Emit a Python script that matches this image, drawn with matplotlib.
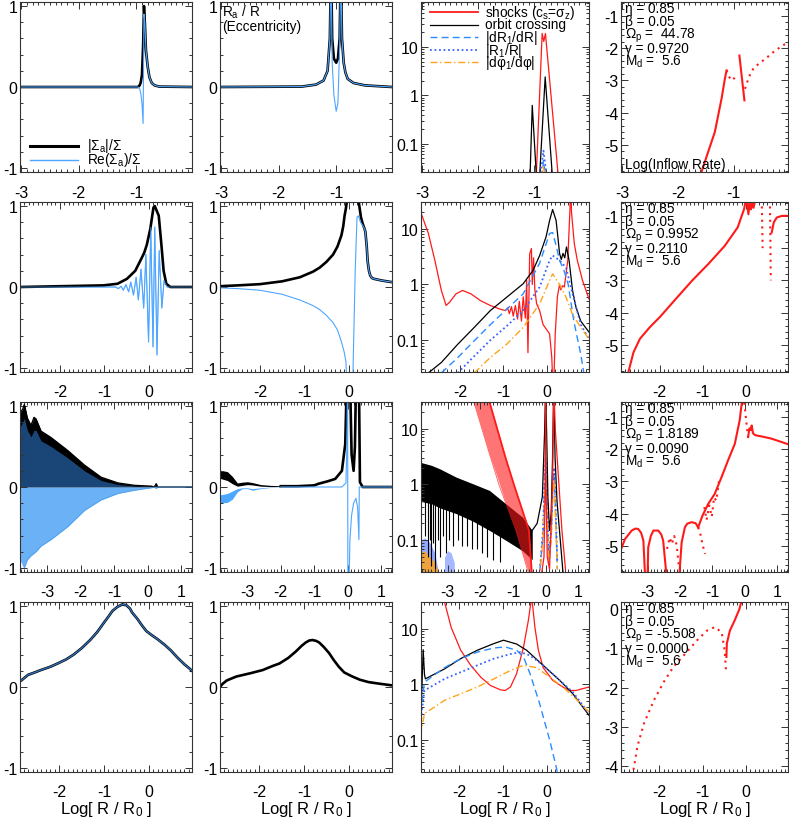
import numpy as np
import matplotlib
matplotlib.use('Agg')
import matplotlib.pyplot as plt
from matplotlib.ticker import MultipleLocator, FixedLocator, FixedFormatter, LogLocator, NullFormatter

plt.rcParams['font.family'] = ['Liberation Sans', 'DejaVu Sans']
plt.rcParams['mathtext.fontset'] = 'custom'
plt.rcParams['mathtext.rm'] = 'Liberation Sans'
plt.rcParams['mathtext.it'] = 'Liberation Sans'
plt.rcParams['mathtext.default'] = 'regular'
plt.rcParams['axes.unicode_minus'] = False

# ---------------- data ----------------
# Row 1
p11_x = [-3.0, -0.97, -0.94, -0.92, -0.90, -0.88, -0.865, -0.85, -0.83, -0.80, -0.77, -0.73, -0.68, -0.6, -0.03]
p11_abs = [0, 0, 0.02, 0.06, 0.15, 0.5, 1.0, 0.8, 0.45, 0.25, 0.12, 0.05, 0.02, 0.005, 0]
p11_re = [0, 0, -0.02, -0.08, -0.2, -0.45, 0.9, 0.8, 0.45, 0.25, 0.12, 0.05, 0.02, 0.005, 0]

p12_x = [-3.0, -1.6, -1.35, -1.22, -1.15, -1.11, -1.09, -1.07, -1.04, -1.0, -0.97, -0.94, -0.92, -0.90, -0.87, -0.84, -0.8, -0.7, -0.5, -0.03]
p12_abs = [0, 0.005, 0.03, 0.08, 0.2, 0.6, 1.5, 0.6, 0.35, 0.3, 0.35, 0.6, 1.5, 0.6, 0.3, 0.18, 0.1, 0.05, 0.02, 0.0]
p12_re = [0, 0.005, 0.03, 0.08, 0.2, 0.6, 1.5, 0.3, -0.1, -0.3, -0.2, 0.5, 1.5, 0.6, 0.3, 0.18, 0.1, 0.05, 0.02, 0.0]

p13_shock_x = [-0.97, -0.864, -0.835, -0.805, -0.575]
p13_shock = [0.02, 19, 13, 19, 0.02]
p13_orb_x = [-1.08, -1.04, -0.965, -0.91, -0.81, -0.68]
p13_orb = [0.02, 0.62, 0.02, 0.02, 2.4, 0.02]
p13_dr_x = [-0.87, -0.84, -0.8]
p13_dr = [0.02, 0.045, 0.02]
p13_r1_x = [-0.9, -0.84, -0.78]
p13_r1 = [0.02, 0.072, 0.02]
p13_dp_x = [-0.88, -0.85, -0.8]
p13_dp = [0.02, 0.035, 0.02]

p14_s1_x = [-1.6, -1.58, -1.34, -1.22, -1.16, -1.13]
p14_s1 = [-6.0, -5.84, -4.6, -3.57, -2.95, -2.69]
p14_d1_x = [-1.13, -1.08, -1.04, -0.99, -0.95]
p14_d1 = [-2.69, -2.90, -3.0, -2.93, -2.85]
p14_s2_x = [-0.90, -0.86, -0.81]
p14_s2 = [-2.23, -2.85, -3.62]
p14_d2_x = [-0.80, -0.74, -0.69, -0.63, -0.51, -0.40, -0.29, -0.17, -0.08, -0.03]
p14_d2 = [-3.26, -2.95, -2.74, -2.59, -2.43, -2.28, -2.12, -1.97, -1.87, -1.82]

# Row 2
p21_x = [-2.9, -1.02, -0.7, -0.49, -0.3, -0.19, -0.1, -0.04, 0.04, 0.11, 0.14, 0.23, 0.29, 0.34, 0.40, 0.49, 0.98]
p21_abs = [0, 0.02, 0.04, 0.1, 0.2, 0.32, 0.42, 0.52, 0.72, 0.98, 1.0, 0.88, 0.52, 0.2, 0.04, 0.0, 0.0]
p21_re_x = [-2.9, -0.75, -0.68, -0.62, -0.57, -0.51, -0.45, -0.40, -0.34, -0.28, -0.23, -0.17, -0.11, -0.06, 0.0, 0.05, 0.10, 0.14, 0.19, 0.24, 0.30, 0.35, 0.42, 0.98]
p21_re = [0, 0, -0.02, 0.01, -0.04, 0.03, -0.06, 0.06, -0.10, 0.12, -0.16, 0.22, -0.26, 0.40, -0.68, 0.74, -0.74, 0.74, -0.84, 0.45, -0.26, 0.08, 0.0, 0]

p22_x = [-2.9, -2.5, -2.0, -1.5, -1.1, -0.8, -0.65, -0.5, -0.35, -0.25, -0.16, -0.12, -0.09, -0.06, -0.04,
         0.1, 0.23, 0.28, 0.32, 0.36, 0.38, 0.41, 0.43, 0.46, 0.49, 0.53, 0.58, 0.75, 0.98]
p22_abs = [0.01, 0.02, 0.035, 0.07, 0.12, 0.19, 0.24, 0.31, 0.40, 0.50, 0.64, 0.75, 0.88, 0.97, 1.05,
           3.0, 1.05, 0.86, 0.78, 0.72, 0.68, 0.5, 0.32, 0.2, 0.14, 0.11, 0.10, 0.08, 0.06]
p22_re_x = [-2.9, -2.5, -2.0, -1.5, -1.1, -0.8, -0.65, -0.5, -0.35, -0.25, -0.16, -0.1, -0.06, -0.03, 0.09,
            0.11, 0.15, 0.19, 0.22, 0.27, 0.32, 0.36, 0.38, 0.41, 0.43, 0.46, 0.49, 0.53, 0.58, 0.75, 0.98]
p22_re = [-0.01, -0.02, -0.04, -0.09, -0.16, -0.23, -0.28, -0.35, -0.44, -0.53, -0.68, -0.8, -0.92, -1.3, -1.3,
          -0.8, 0.2, 0.86, 0.88, 0.8, 0.76, 0.72, 0.68, 0.5, 0.32, 0.2, 0.14, 0.11, 0.10, 0.08, 0.06]

p23_shock_x = [-2.9, -2.87, -2.73, -2.58, -2.43, -2.32, -2.24, -2.09, -1.94, -1.75, -1.52, -1.30, -1.07,
               -0.95, -0.90, -0.86, -0.81, -0.77, -0.72, -0.67, -0.63, -0.58, -0.54, -0.49, -0.46, -0.43,
               -0.39, -0.35, -0.33, -0.30, -0.27, -0.23, -0.16, -0.08, -0.01, 0.07, 0.12, 0.14, 0.17,
               0.20, 0.25, 0.30, 0.33, 0.37, 0.41, 0.49, 0.54, 0.56, 0.575, 0.64, 0.71, 0.83, 0.98]
p23_shock = [19, 16.5, 8.2, 2.7, 0.78, 0.42, 0.48, 0.68, 0.78, 0.68, 0.51, 0.42, 0.36,
             0.34, 0.38, 0.30, 0.40, 0.27, 0.42, 0.24, 0.50, 0.22, 0.60, 0.25, 1.2, 0.06,
             3.5, 4.4, 1.0, 3.0, 0.8, 0.45, 0.34, 0.19, 0.16, 0.13, 0.05, 0.02, 0.02,
             0.13, 0.6, 1.0, 0.8, 0.95, 0.9, 2.7, 22, 80, 20, 5.4, 2.7, 1.18, 0.55]
p23_orb_x = [-2.8, -2.73, -2.43, -2.05, -1.67, -1.30, -0.92, -0.54, -0.31, -0.16, -0.01, 0.07, 0.14, 0.22, 0.26,
             0.30, 0.34, 0.38, 0.42, 0.46, 0.52, 0.60, 0.68, 0.79, 0.98]
p23_orb = [0.022, 0.026, 0.04, 0.085, 0.17, 0.34, 0.59, 1.03, 1.8, 3.3, 7.2, 14, 22, 14, 7.2,
           3.6, 2.8, 3.6, 3.0, 4.7, 2.7, 0.78, 0.39, 0.22, 0.14]
p23_dr_x = [-2.43, -2.05, -1.67, -1.30, -0.92, -0.54, -0.16, 0.07, 0.14, 0.22, 0.30, 0.40, 0.50, 0.63, 0.79, 0.86]
p23_dr = [0.026, 0.049, 0.098, 0.19, 0.36, 0.68, 2.4, 8.2, 8.5, 5.0, 2.7, 1.8, 1.0, 0.22, 0.056, 0.026]
p23_r1_x = [-2.05, -1.67, -1.30, -0.92, -0.54, -0.16, 0.07, 0.14, 0.30, 0.45, 0.60, 0.79, 0.98]
p23_r1 = [0.026, 0.052, 0.10, 0.18, 0.34, 0.9, 2.7, 3.3, 2.7, 2.0, 0.68, 0.19, 0.105]
p23_dp_x = [-1.67, -1.30, -0.92, -0.54, -0.16, 0.07, 0.14, 0.30, 0.45, 0.60, 0.79, 0.98]
p23_dp = [0.026, 0.049, 0.085, 0.17, 0.45, 1.18, 1.55, 1.0, 0.59, 0.29, 0.17, 0.105]

p24_s1_x = [-2.75, -2.73, -2.61, -2.46, -2.23, -2.0, -1.63, -1.25, -0.87, -0.49, -0.19, -0.04, 0.0]
p24_s1 = [-6.0, -5.85, -5.23, -4.81, -4.45, -4.14, -3.58, -3.01, -2.49, -1.93, -1.36, -0.79, -0.5]
p24_s2_x = [0.02, 0.06, 0.09, 0.12, 0.15, 0.18, 0.22]
p24_s2 = [-0.5, -0.95, -0.6, -0.8, -0.6, -0.75, -0.5]
p24_d1_x = [0.37, 0.38, 0.39]
p24_d1 = [-0.5, -1.2, -2.0]
p24_d2_x = [0.56, 0.57, 0.58]
p24_d2 = [-0.5, -1.6, -3.0]
p24_s3_x = [0.60, 0.62, 0.65, 0.72, 0.84, 0.99]
p24_s3 = [-1.52, -1.4, -1.2, -1.05, -1.0, -1.0]

# Row 3
p31_x = [-3.85, -3.74, -3.69, -3.6, -3.49, -3.4, -3.34, -3.19, -2.89, -2.39, -1.89, -1.39, -0.89, -0.39, 0.11, 0.2, 0.26, 0.3, 1.35]
p31_up = [0.9, 0.96, 1.02, 0.85, 0.76, 0.86, 0.84, 0.69, 0.61, 0.45, 0.27, 0.12, 0.05, 0.02, 0.01, 0.0, 0.04, 0.0, 0.0]
p31_blk = [0.72, 0.8, 0.85, 0.7, 0.62, 0.7, 0.7, 0.57, 0.5, 0.36, 0.2, 0.08, 0.03, 0.012, 0.005, 0.0, 0.02, 0.0, 0.0]
p31_lo = [-0.85, -0.95, -1.0, -0.9, -0.85, -0.82, -0.8, -0.73, -0.65, -0.49, -0.29, -0.16, -0.08, -0.04, -0.01, 0.0, -0.02, 0.0, 0.0]

p32_band_x = [-3.85, -3.6, -3.45, -3.3, -3.15, -3.0, -2.85, -2.6, -2.3, -2.0]
p32_band_up = [0.21, 0.19, 0.13, 0.05, 0.06, 0.065, 0.055, 0.03, 0.02, 0.015]
p32_band_lo = [0.11, 0.08, 0.04, 0.01, 0.02, 0.03, 0.025, 0.01, 0.005, 0.005]
p32_x = [-2.0, -1.5, -1.0, -0.87, -0.6, -0.37, -0.17, -0.07, -0.03, 0.03, 0.08, 0.12, 0.18, 0.22, 0.26, 0.30, 0.34, 0.37, 0.45, 1.35]
p32_abs = [0.01, 0.01, 0.02, 0.04, 0.07, 0.1, 0.2, 0.53, 1.2, 3.0, 1.2, 0.4, 0.2, 0.5, 1.5, 3.0, 1.3, 0.06, 0.0, 0.0]
p32_bband_up = [-0.1, -0.08, -0.05, -0.02, -0.01, -0.01, -0.02, -0.01, 0.0, 0.0]
p32_bband_lo = [-0.2, -0.19, -0.15, -0.06, -0.02, -0.02, -0.04, -0.02, -0.005, 0.0]
p32_re_x = [-2.0, -0.5, -0.17, -0.05, -0.02, 0.0, 0.01, 0.03, 0.07, 0.12, 0.18, 0.25, 0.30, 0.34, 0.35, 0.45, 1.35]
p32_re = [0.0, 0.0, 0.0, 0.05, 0.5, 1.5, -1.5, -1.5, -0.65, -0.35, -0.2, -0.14, -0.25, -0.65, 0.0, 0.0, 0.0]

p33_sh_up_x = [-2.2, -1.72, -1.22, -0.96, -0.51, -0.41]
p33_sh_up = [80, 30, 2.9, 0.95, 0.15, 0.02]
p33_sh_lo_x = [-2.2, -1.72, -1.42, -0.91, -0.56, -0.45]
p33_sh_lo = [30, 3.5, 0.95, 0.15, 0.03, 0.02]
p33_sh_x = [-0.41, -0.3, -0.15, -0.05, -0.01, 0.0, 0.01, 0.05, 0.12, 0.18, 0.22, 0.24, 0.25, 0.30, 0.40, 0.50, 0.61]
p33_sh = [0.02, 0.02, 0.02, 0.05, 1.0, 60, 1.0, 0.05, 0.03, 0.3, 2.0, 20, 60, 9, 1.18, 0.15, 0.03]
p33_env_x = [-3.85, -3.5, -3.24, -2.74, -2.23, -1.72, -1.22, -0.71, -0.41]
p33_env_up = [2.5, 2.2, 1.9, 1.35, 1.03, 0.78, 0.45, 0.26, 0.15]
p33_env_lo = [0.5, 0.45, 0.38, 0.3, 0.22, 0.15, 0.1, 0.065, 0.045]
p33_spk_x = [-3.7, -3.62, -3.55, -3.5, -3.44, -3.38, -3.3, -3.25, -3.15, -3.05, -2.95, -2.85, -2.7, -2.55, -2.4, -2.25, -2.1, -1.95, -1.8, -1.6, -1.4]
p33_spk_lo = [0.12, 0.05, 0.1, 0.035, 0.09, 0.03, 0.1, 0.05, 0.12, 0.06, 0.1, 0.08, 0.1, 0.08, 0.08, 0.07, 0.07, 0.06, 0.05, 0.045, 0.04]
p33_orb_x = [-0.41, -0.26, -0.10, -0.03, 0.0, 0.03, 0.07, 0.12, 0.17, 0.21, 0.25, 0.29, 0.35, 0.45, 0.55]
p33_orb = [0.15, 0.2, 0.6, 9, 60, 9, 0.6, 0.15, 0.3, 2.5, 60, 3.0, 0.5, 0.1, 0.02]
p33_sm_x = [-0.2, -0.08, -0.03, 0.0, 0.04, 0.1, 0.17, 0.22, 0.26, 0.3, 0.36]
p33_dr = [0.02, 0.12, 1.0, 2.5, 0.4, 0.04, 0.12, 0.8, 1.6, 0.4, 0.03]
p33_r1 = [0.02, 0.15, 1.2, 3.0, 0.5, 0.05, 0.15, 1.0, 2.0, 0.5, 0.04]
p33_dp = [0.02, 0.1, 0.6, 1.5, 0.3, 0.04, 0.1, 0.6, 1.2, 0.3, 0.03]
p33_patch_x = [-3.85, -3.7, -3.55, -3.4, -3.3]
p33_patch_blue = [0.1, 0.11, 0.09, 0.06, 0.03]
p33_patch_orange = [0.06, 0.065, 0.05, 0.04, 0.028]
p33_patch2_x = [-3.1, -3.0, -2.9, -2.8]
p33_patch2_blue = [0.05, 0.065, 0.06, 0.04]

p34_sA_x = [-3.85, -3.7, -3.49, -3.38, -3.29, -3.2, -3.13, -3.08]
p34_sA = [-5.2, -4.8, -4.53, -4.47, -4.48, -4.6, -4.84, -5.9]
p34_sB_x = [-3.0, -2.98, -2.9, -2.82, -2.67, -2.58, -2.52, -2.42]
p34_sB = [-5.9, -5.05, -4.7, -4.53, -4.53, -4.65, -4.84, -5.9]
p34_dC_x = [-2.4, -2.32, -2.25, -2.18, -2.1, -2.04]
p34_dC = [-5.1, -4.75, -4.95, -4.7, -5.0, -5.6]
p34_sD_x = [-2.02, -1.95, -1.85, -1.78, -1.65, -1.52, -1.44]
p34_sD = [-5.9, -4.9, -4.43, -4.32, -4.27, -4.3, -4.43]
p34_dE_x = [-1.44, -1.38, -1.32, -1.27, -1.23]
p34_dE = [-4.43, -4.6, -4.9, -5.1, -5.26]
p34_sF_x = [-1.44, -1.3, -1.13, -0.93, -0.72, -0.52, -0.31, -0.16, -0.09]
p34_sF = [-4.43, -4.05, -3.7, -3.39, -2.87, -2.35, -1.83, -1.1, -0.5]
p34_dF_x = [-1.25, -1.18, -1.1, -1.02, -0.95, -0.88, -0.8]
p34_dF = [-3.8, -4.2, -3.75, -4.1, -3.5, -3.6, -3.0]
p34_dG_x = [-0.02, 0.02, 0.06, 0.1]
p34_dG = [-0.55, -0.9, -1.3, -1.62]
p34_sH_x = [0.1, 0.14, 0.18, 0.21, 0.25, 0.30, 0.35, 0.51, 0.82, 1.35]
p34_sH = [-1.62, -1.35, -1.4, -1.26, -1.5, -1.55, -1.57, -1.6, -1.67, -1.85]

# Row 4
p41_x = [-2.88, -2.83, -2.70, -2.55, -2.41, -2.2, -2.04, -1.85, -1.68, -1.5, -1.31, -1.15, -1.02, -0.9, -0.81,
         -0.7, -0.59, -0.5, -0.42, -0.37, -0.25, -0.15, -0.05, 0.07, 0.2, 0.36, 0.5, 0.65, 0.8, 0.91, 0.97]
p41_y = [0.07, 0.09, 0.15, 0.18, 0.21, 0.25, 0.29, 0.34, 0.40, 0.48, 0.58, 0.68, 0.78, 0.87, 0.94,
         0.99, 1.02, 1.01, 0.97, 0.92, 0.84, 0.76, 0.69, 0.64, 0.59, 0.52, 0.45, 0.36, 0.28, 0.23, 0.2]

p42_x = [-2.88, -2.82, -2.73, -2.6, -2.51, -2.2, -1.92, -1.7, -1.55, -1.35, -1.18, -1.05, -0.96, -0.88, -0.81,
         -0.73, -0.66, -0.55, -0.44, -0.33, -0.22, -0.1, 0.08, 0.25, 0.45, 0.7, 0.97]
p42_y = [0.0, 0.04, 0.08, 0.11, 0.13, 0.17, 0.21, 0.26, 0.29, 0.36, 0.44, 0.51, 0.55, 0.575, 0.58,
         0.57, 0.55, 0.49, 0.42, 0.33, 0.25, 0.18, 0.13, 0.09, 0.06, 0.04, 0.02]

p43_sh_x = [-2.4, -2.34, -2.19, -1.97, -1.74, -1.51, -1.29, -1.06, -0.95, -0.83, -0.69, -0.53, -0.42, -0.36,
            -0.345, -0.33, -0.27, -0.19, -0.08, 0.14, 0.37, 0.52, 0.67, 0.97]
p43_sh = [60, 30, 10.6, 4.1, 2.2, 1.35, 0.96, 0.8, 0.78, 0.9, 1.55, 4.7, 14, 30,
          80, 30, 10.6, 4.1, 2.0, 1.18, 0.9, 0.78, 0.78, 0.9]
p43_orb_x = [-2.88, -2.87, -2.83, -2.80, -2.78, -2.34, -1.97, -1.59, -1.21, -0.99, -0.69, -0.46, -0.08, 0.30, 0.6, 0.97]
p43_orb = [0.3, 0.5, 4.2, 1.5, 1.26, 1.9, 2.9, 4.1, 5.4, 6.2, 5.3, 4.1, 2.2, 1.18, 0.68, 0.28]
p43_dr_x = [-2.88, -2.87, -2.80, -2.34, -1.97, -1.59, -1.21, -0.95, -0.69, -0.53, -0.38, -0.16, 0.07, 0.22, 0.3]
p43_dr = [0.3, 0.45, 1.1, 2.0, 2.9, 3.8, 4.5, 4.7, 4.1, 3.1, 1.55, 0.45, 0.1, 0.033, 0.015]
p43_r1_x = [-2.88, -2.87, -2.80, -2.34, -1.97, -1.59, -1.21, -0.83, -0.6, -0.38, -0.08, 0.30, 0.6, 0.97]
p43_r1 = [0.2, 0.3, 0.78, 1.26, 1.66, 2.2, 2.9, 3.5, 3.8, 3.3, 2.2, 1.18, 0.73, 0.3]
p43_dp_x = [-2.88, -2.87, -2.80, -2.34, -1.97, -1.59, -1.21, -0.83, -0.53, -0.23, 0.07, 0.37, 0.67, 0.97]
p43_dp = [0.12, 0.15, 0.3, 0.52, 0.68, 0.9, 1.26, 1.78, 2.2, 2.0, 1.35, 0.9, 0.55, 0.32]

p44_d_x = [-2.65, -2.59, -2.50, -2.35, -2.12, -1.89, -1.67, -1.36, -1.13, -0.90, -0.72, -0.56, -0.49, -0.46]
p44_d = [-4.6, -4.08, -3.49, -2.91, -2.32, -1.85, -1.47, -1.09, -0.8, -0.55, -0.46, -0.59, -1.05, -1.56]
p44_s_x = [-0.45, -0.44, -0.37, -0.26, -0.15, -0.08]
p44_s = [-1.22, -0.88, -0.55, -0.29, 0.0, 0.3]

info_omega = ['Ω$_p$ =  44.78', 'Ω$_p$ = 0.9952', 'Ω$_p$ = 1.8189', 'Ω$_p$ = -5.508']
info_gamma = ['γ = 0.9720', 'γ = 0.2110', 'γ = 0.0090', 'γ = 0.0000']
legend3 = ['shocks (c$_s$=σ$_z$)', 'orbit crossing', '|dR$_1$/dR|', '|R$_1$/R|', '|dφ$_1$/dφ|']

# ---------------- layout ----------------
W, H = 789, 820
fig = plt.figure(figsize=(W / 100, H / 100), dpi=100)
col_left = [20, 220, 421, 621]
col_w = [172, 172, 168, 167]
row_top = [3, 203, 403, 603]
row_h = 170
xlims = [(-3.02, -0.03), (-2.9, 0.98), (-3.82, 1.33), (-2.88, 0.97)]
xticks = [[-3, -2, -1], [-2, -1, 0], [-3, -2, -1, 0, 1], [-2, -1, 0]]
col3_ylim = [(0.026, 85), (0.027, 30), (0.027, 30), (0.027, 30)]
col4_ylim = [(-5.84, -0.57), (-5.84, -0.57), (-5.82, -0.53), (-4.15, 0.18)]

RED = '#ff1a1a'
LBLUE = '#4da6ff'
DBLUE = '#2a8cff'
PBLUE = '#3a63ff'
ORANGE = '#ffa31a'
FS_TICK = 11.5
FS_TXT = 9.8

def add_ax(r, c):
    l, w, t = col_left[c], col_w[c], row_top[r]
    return fig.add_axes([l / W, 1 - (t + row_h) / H, w / W, row_h / H])

def style(ax, r, c):
    ax.set_xlim(*xlims[r])
    ax.xaxis.set_major_locator(FixedLocator(xticks[r]))
    ax.xaxis.set_minor_locator(MultipleLocator(0.1))
    ax.tick_params(which='both', direction='in', top=True, right=True,
                   labelsize=FS_TICK, width=0.7, color='#333333')
    ax.tick_params(which='major', length=5)
    ax.tick_params(which='minor', length=2.5)
    ax.tick_params(axis='x', pad=9)
    ax.tick_params(axis='y', pad=2)
    for s in ax.spines.values():
        s.set_linewidth(0.8)
        s.set_color('#333333')
    if c in (0, 1):
        ax.set_ylim(-1.05, 1.05)
        ax.yaxis.set_major_locator(FixedLocator([-1, 0, 1]))
        ax.yaxis.set_minor_locator(MultipleLocator(0.2))
    elif c == 2:
        ax.set_yscale('log')
        ax.set_ylim(*col3_ylim[r])
        ax.yaxis.set_major_locator(FixedLocator([0.1, 1, 10]))
        ax.yaxis.set_major_formatter(FixedFormatter(['0.1', '1', '10']))
        ax.yaxis.set_minor_locator(LogLocator(base=10, subs=np.arange(2, 10), numticks=20))
        ax.yaxis.set_minor_formatter(NullFormatter())
    else:
        ax.set_ylim(*col4_ylim[r])
        ticks = [-5, -4, -3, -2, -1] if r < 3 else [-4, -3, -2, -1, 0]
        ax.yaxis.set_major_locator(FixedLocator(ticks))
        ax.yaxis.set_minor_locator(MultipleLocator(0.2))
    if r == 3:
        ax.set_xlabel('Log[ R / R$_0$ ]', fontsize=12, labelpad=0)

def ptext(x, y, s, **kw):
    fig.text(x / W, 1 - y / H, s, fontsize=FS_TXT, va='center', ha='left', **kw)

axes = [[add_ax(r, c) for c in range(4)] for r in range(4)]
for r in range(4):
    for c in range(4):
        style(axes[r][c], r, c)

ABS = dict(color='k', lw=1.9)
RE = dict(color=LBLUE, lw=0.8)
SH = dict(color=RED, lw=0.9)
ORB = dict(color='k', lw=0.9)
DR = dict(color=DBLUE, lw=1.0, ls=(0, (5, 3)))
R1 = dict(color=PBLUE, lw=1.3, ls=(0, (1, 1.5)))
DP = dict(color=ORANGE, lw=1.0, ls=(0, (5, 2, 1, 2)))
RSOL = dict(color=RED, lw=1.5)
RDOT = dict(color=RED, lw=1.5, ls=(0, (1, 2.2)))

# ---- row 1 ----
ax = axes[0][0]
ax.plot(p11_x, p11_abs, **ABS)
ax.plot(p11_x, p11_re, **RE)
ax = axes[0][1]
ax.plot(p12_x, p12_abs, **ABS)
ax.plot(p12_x, p12_re, **RE)
ax = axes[0][2]
ax.plot(p13_shock_x, p13_shock, **SH)
ax.plot(p13_orb_x, p13_orb, **ORB)
ax.plot(p13_dr_x, p13_dr, **DR)
ax.plot(p13_r1_x, p13_r1, **R1)
ax.plot(p13_dp_x, p13_dp, **DP)
ax = axes[0][3]
ax.plot(p14_s1_x, p14_s1, **RSOL)
ax.plot(p14_d1_x, p14_d1, **RDOT)
ax.plot(p14_s2_x, p14_s2, **RSOL)
ax.plot(p14_d2_x, p14_d2, **RDOT)

# ---- row 2 ----
ax = axes[1][0]
ax.plot(p21_re_x, p21_re, **RE)
ax.plot(p21_x, p21_abs, **ABS)
ax.plot(p21_re_x, p21_re, color=LBLUE, lw=0.6, alpha=0.8)
ax = axes[1][1]
ax.plot(p22_x, p22_abs, **ABS)
ax.plot(p22_re_x, p22_re, **RE)
ax = axes[1][2]
ax.plot(p23_shock_x, p23_shock, **SH)
ax.plot(p23_orb_x, p23_orb, **ORB)
ax.plot(p23_dr_x, p23_dr, **DR)
ax.plot(p23_r1_x, p23_r1, **R1)
ax.plot(p23_dp_x, p23_dp, **DP)
ax = axes[1][3]
ax.plot(p24_s1_x, p24_s1, **RSOL)
ax.plot(p24_s2_x, p24_s2, **RSOL)
ax.plot(p24_d1_x, p24_d1, **RDOT)
ax.plot(p24_d2_x, p24_d2, **RDOT)
ax.plot(p24_s3_x, p24_s3, **RSOL)

# ---- row 3 ----
ax = axes[2][0]
ax.fill_between(p31_x, p31_lo, 0, color='#6ab2f5', lw=0)
ax.fill_between(p31_x, 0, p31_up, color='#1a4677', lw=0)
ax.fill_between(p31_x, p31_blk, p31_up, color='k', lw=0)
ax.plot(p31_x, p31_up, color='k', lw=1.0)
ax.plot(p31_x, p31_lo, color='#4d9fee', lw=0.6)
ax = axes[2][1]
ax.fill_between(p32_band_x, p32_band_lo, p32_band_up, color='k', lw=0)
ax.fill_between(p32_band_x, p32_bband_lo, p32_bband_up, color=LBLUE, lw=0)
ax.plot(p32_x, p32_abs, **ABS)
ax.plot(p32_re_x, p32_re, **RE)
ax = axes[2][2]
ax.fill_between(p33_patch_x, 0.02, p33_patch_blue, color=PBLUE, alpha=0.55, lw=0)
ax.fill_between(p33_patch_x, 0.02, p33_patch_orange, color=ORANGE, alpha=0.85, lw=0)
ax.fill_between(p33_patch2_x, 0.02, p33_patch2_blue, color=PBLUE, alpha=0.45, lw=0)
ax.fill_between(p33_env_x, p33_env_lo, p33_env_up, color='k', lw=0)
spk_top = 10 ** np.interp(p33_spk_x, p33_env_x, np.log10(p33_env_lo))
ax.vlines(p33_spk_x, p33_spk_lo, spk_top * 1.05, color='k', lw=0.8)
ax.plot(p33_sm_x, p33_dr, **DR)
ax.plot(p33_sm_x, p33_r1, **R1)
ax.plot(p33_sm_x, p33_dp, **DP)
ax.plot(p33_orb_x, p33_orb, **ORB)
sh_lo_i = np.interp(p33_sh_up_x, p33_sh_lo_x, np.log10(p33_sh_lo))
ax.fill_between(p33_sh_up_x, 10 ** sh_lo_i, p33_sh_up, color=RED, alpha=0.6, lw=0)
ax.plot(p33_sh_up_x, p33_sh_up, color=RED, lw=1.3)
ax.plot(p33_sh_lo_x, p33_sh_lo, color=RED, lw=0.6, alpha=0.7)
ax.plot(p33_sh_x, p33_sh, **SH)
ax = axes[2][3]
for xs, ys in [(p34_sA_x, p34_sA), (p34_sB_x, p34_sB), (p34_sD_x, p34_sD), (p34_sF_x, p34_sF), (p34_sH_x, p34_sH)]:
    ax.plot(xs, ys, **RSOL)
for xs, ys in [(p34_dC_x, p34_dC), (p34_dE_x, p34_dE), (p34_dF_x, p34_dF), (p34_dG_x, p34_dG)]:
    ax.plot(xs, ys, **RDOT)

# ---- row 4 ----
ax = axes[3][0]
ax.plot(p41_x, p41_y, **ABS)
ax.plot(p41_x, p41_y, color='#2f6fb5', lw=1.0)
ax = axes[3][1]
ax.plot(p42_x, p42_y, **ABS)
ax = axes[3][2]
ax.plot(p43_sh_x, p43_sh, **SH)
ax.plot(p43_orb_x, p43_orb, **ORB)
ax.plot(p43_dr_x, p43_dr, **DR)
ax.plot(p43_r1_x, p43_r1, **R1)
ax.plot(p43_dp_x, p43_dp, **DP)
ax = axes[3][3]
ax.plot(p44_d_x, p44_d, **RDOT)
ax.plot(p44_s_x, p44_s, **RSOL)

# ---------------- annotations ----------------
fig.add_artist(plt.Line2D([30 / W, 78 / W], [1 - 147 / H, 1 - 147 / H], color='k', lw=2.2))
fig.add_artist(plt.Line2D([30 / W, 78 / W], [1 - 161 / H, 1 - 161 / H], color=LBLUE, lw=1.0))
ptext(87, 146, '|Σ$_a$|/Σ')
ptext(87, 160, 'Re(Σ$_a$)/Σ')
ptext(222, 12, 'R$_a$ / R')
ptext(222, 27, '(Eccentricity)')
leg_styles = [SH, ORB, DR, R1, DP]
leg_y = [13, 25.5, 38, 50.5, 63]
for st, yy, lab in zip(leg_styles, leg_y, legend3):
    kw = dict(st)
    if st is SH:
        kw['lw'] = 1.3
    fig.add_artist(plt.Line2D([430 / W, 478 / W], [1 - yy / H, 1 - yy / H], **kw))
    ptext(485, yy, lab)
for r in range(4):
    t0 = row_top[r]
    lines = ['η = 0.85', 'β = 0.05', info_omega[r], info_gamma[r], 'M$_d$ =  5.6']
    for k, s in enumerate(lines):
        ptext(625, t0 + 6 + k * 13.3, s)
ptext(625, 165, 'Log(Inflow Rate)')

fig.savefig('out.png', dpi=100)
